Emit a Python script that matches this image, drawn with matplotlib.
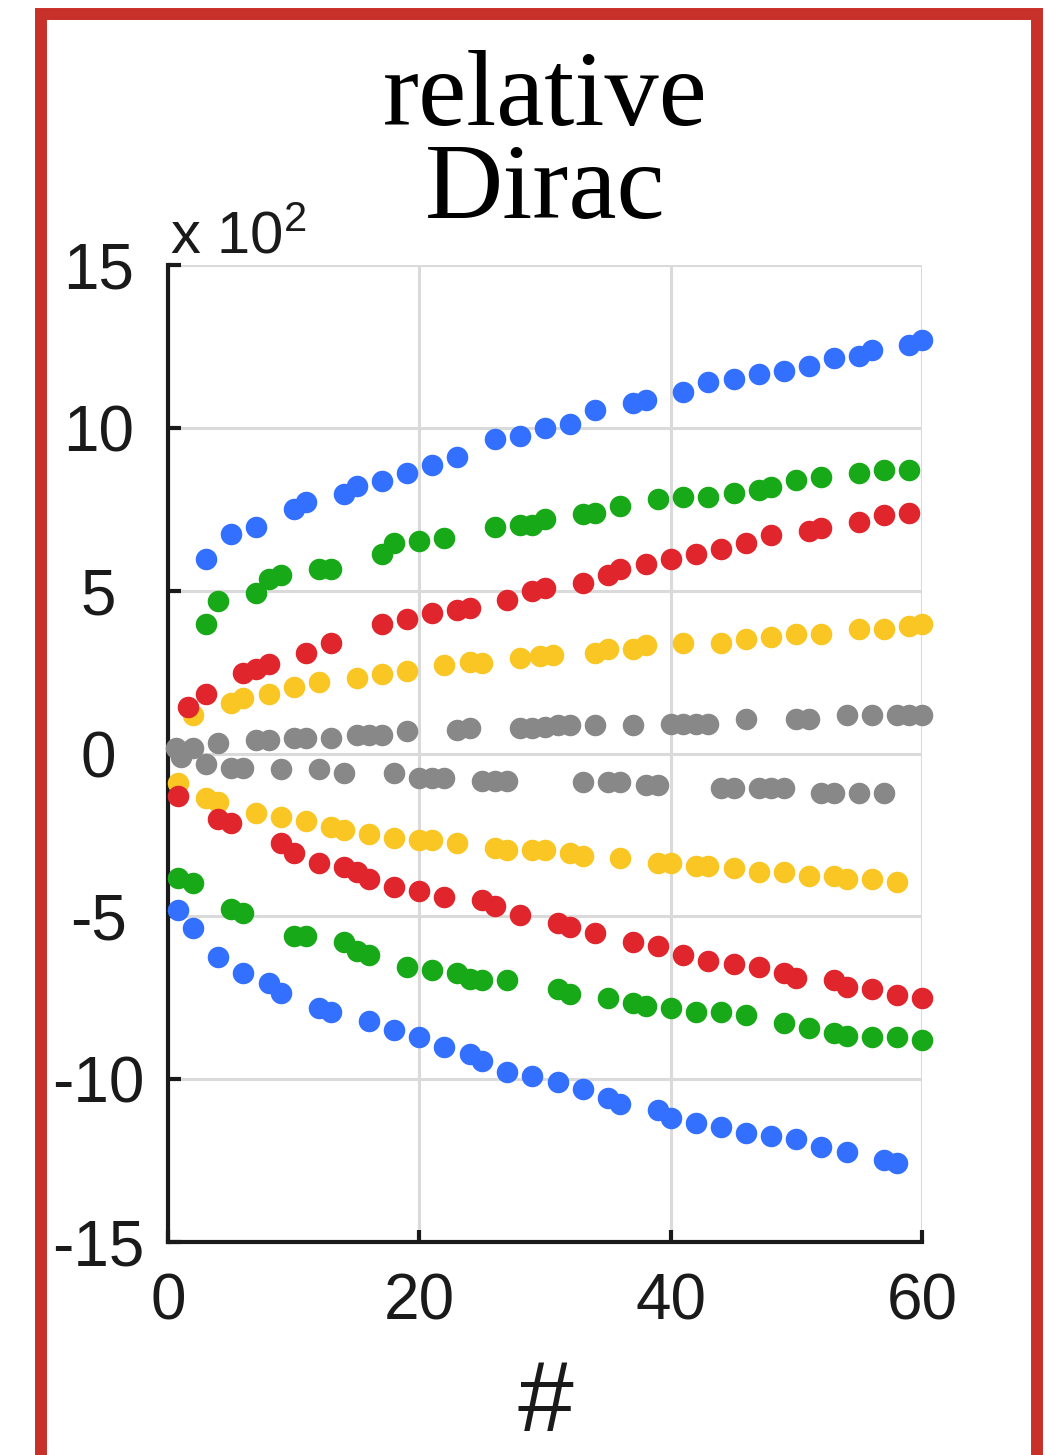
import numpy as np
import matplotlib
matplotlib.use("Agg")
import matplotlib.pyplot as plt
from matplotlib.patches import Rectangle

plt.rcParams["font.family"] = ["Liberation Sans", "DejaVu Sans"]
plt.rcParams["mathtext.default"] = "regular"

# values in units of 10^2
blue_up_x = [3, 5, 7, 10, 11, 14, 15, 17, 19, 21, 23, 26, 28, 30, 32, 34, 37, 38,
             41, 43, 45, 47, 49, 51, 53, 55, 56, 59, 60]
blue_up_y = [5.96, 6.75, 6.94, 7.52, 7.71, 7.98, 8.20, 8.38, 8.60, 8.87, 9.09, 9.67,
             9.76, 9.98, 10.13, 10.56, 10.75, 10.84, 11.11, 11.42, 11.51, 11.64,
             11.73, 11.91, 12.13, 12.22, 12.40, 12.53, 12.71]

green_up_x = [3, 4, 7, 8, 9, 12, 13, 17, 18, 20, 22, 26, 28, 29, 30, 33, 34, 36,
              39, 41, 43, 45, 47, 48, 50, 52, 55, 57, 59]
green_up_y = [3.99, 4.67, 4.94, 5.37, 5.47, 5.68, 5.68, 6.14, 6.45, 6.54, 6.63, 6.94,
              7.03, 7.03, 7.21, 7.34, 7.40, 7.61, 7.80, 7.89, 7.89, 8.01, 8.10, 8.17,
              8.41, 8.50, 8.60, 8.69, 8.69]

red_up_x = [1.6, 3, 6, 7, 8, 11, 13, 17, 19, 21, 23, 24, 27, 29, 30, 33, 35, 36,
            38, 40, 42, 44, 46, 48, 51, 52, 55, 57, 59]
red_up_y = [1.44, 1.84, 2.46, 2.58, 2.76, 3.10, 3.38, 3.99, 4.14, 4.30, 4.42, 4.48,
            4.70, 5.00, 5.07, 5.25, 5.47, 5.65, 5.83, 5.96, 6.14, 6.29, 6.45, 6.72,
            6.82, 6.91, 7.12, 7.31, 7.40]

yellow_up_x = [2, 5, 6, 8, 10, 12, 15, 17, 19, 22, 24, 25, 28, 29.6, 30.6, 34, 35,
               37, 38, 41, 44, 46, 48, 50, 52, 55, 57, 59, 60]
yellow_up_y = [1.17, 1.54, 1.69, 1.84, 2.03, 2.21, 2.33, 2.43, 2.52, 2.73, 2.82, 2.79,
               2.92, 2.98, 3.01, 3.10, 3.22, 3.22, 3.32, 3.38, 3.38, 3.53, 3.59, 3.68,
               3.68, 3.81, 3.81, 3.90, 3.99]

gray_up_x = [0.6, 2, 4, 7, 8, 10, 11, 13, 15, 16, 17, 19, 23, 24, 28, 29, 30, 31,
             32, 34, 37, 40, 41, 42, 43, 46, 50, 51, 54, 56, 58, 59, 60]
gray_up_y = [0.18, 0.18, 0.31, 0.40, 0.40, 0.49, 0.49, 0.49, 0.58, 0.58, 0.58, 0.68,
             0.71, 0.77, 0.77, 0.77, 0.80, 0.86, 0.86, 0.86, 0.86, 0.92, 0.92, 0.92,
             0.92, 1.07, 1.07, 1.07, 1.17, 1.17, 1.17, 1.17, 1.17]

gray_lo_x = [1, 3, 5, 6, 9, 12, 14, 18, 20, 21, 22, 25, 26, 27, 33, 35, 36, 38, 39,
             44, 45, 47, 48, 49, 52, 53, 55, 57]
gray_lo_y = [-0.10, -0.31, -0.43, -0.43, -0.49, -0.49, -0.61, -0.61, -0.74, -0.74,
             -0.74, -0.83, -0.83, -0.83, -0.89, -0.89, -0.89, -0.98, -0.98, -1.07,
             -1.07, -1.07, -1.07, -1.07, -1.20, -1.20, -1.20, -1.20]

yellow_lo_x = [0.8, 3, 4, 7, 9, 11, 13, 14, 16, 18, 20, 21, 23, 26, 27, 29, 30, 32,
               33, 36, 39, 40, 42, 43, 45, 47, 49, 51, 53, 54, 56, 58]
yellow_lo_y = [-0.92, -1.38, -1.50, -1.84, -1.96, -2.06, -2.27, -2.36, -2.46, -2.58,
               -2.67, -2.67, -2.76, -2.89, -2.95, -2.95, -2.95, -3.07, -3.16, -3.22,
               -3.35, -3.35, -3.44, -3.44, -3.53, -3.65, -3.65, -3.75, -3.75, -3.84,
               -3.84, -3.96]

red_lo_x = [0.8, 4, 5, 9, 10, 12, 14, 15, 16, 18, 20, 22, 25, 26, 28, 31, 32, 34,
            37, 39, 41, 43, 45, 47, 49, 50, 53, 54, 56, 58, 60]
red_lo_y = [-1.29, -2.00, -2.12, -2.76, -3.04, -3.35, -3.50, -3.65, -3.84, -4.11,
            -4.21, -4.42, -4.51, -4.67, -4.97, -5.19, -5.34, -5.50, -5.80, -5.90,
            -6.20, -6.36, -6.45, -6.57, -6.75, -6.88, -6.97, -7.18, -7.22, -7.43,
            -7.52]

green_lo_x = [0.8, 2, 5, 6, 10, 11, 14, 15, 16, 19, 21, 23, 24, 25, 27, 31, 32, 35,
              37, 38, 40, 42, 44, 46, 49, 51, 53, 54, 56, 58, 60]
green_lo_y = [-3.81, -3.99, -4.79, -4.91, -5.59, -5.59, -5.80, -6.05, -6.20, -6.57,
              -6.66, -6.75, -6.91, -6.97, -6.97, -7.22, -7.37, -7.52, -7.65, -7.74,
              -7.83, -7.95, -7.95, -8.04, -8.26, -8.44, -8.57, -8.66, -8.72, -8.72,
              -8.81]

blue_lo_x = [0.8, 2, 4, 6, 8, 9, 12, 13, 16, 18, 20, 22, 24, 25, 27, 29, 31, 33, 35,
             36, 39, 40, 42, 44, 46, 48, 50, 52, 54, 57, 58]
blue_lo_y = [-4.82, -5.37, -6.26, -6.75, -7.06, -7.34, -7.83, -7.95, -8.20, -8.50,
             -8.72, -9.00, -9.24, -9.43, -9.79, -9.89, -10.10, -10.29, -10.59, -10.75,
             -10.96, -11.18, -11.36, -11.48, -11.64, -11.76, -11.85, -12.07, -12.25,
             -12.47, -12.56]

c_blue = "#3370ff"
c_green = "#17a917"
c_red = "#e0252d"
c_yellow = "#f9c623"
c_gray = "#888888"

series = [
    (gray_up_x, gray_up_y, c_gray), (gray_lo_x, gray_lo_y, c_gray),
    (yellow_up_x, yellow_up_y, c_yellow), (yellow_lo_x, yellow_lo_y, c_yellow),
    (red_up_x, red_up_y, c_red), (red_lo_x, red_lo_y, c_red),
    (green_up_x, green_up_y, c_green), (green_lo_x, green_lo_y, c_green),
    (blue_up_x, blue_up_y, c_blue), (blue_lo_x, blue_lo_y, c_blue),
]

fig = plt.figure(figsize=(10.51, 14.55), dpi=100)
ax = fig.add_axes([168 / 1051, 1 - 1242 / 1455, 754 / 1051, 977 / 1455])

for xs, ys, col in series:
    ax.plot(xs, ys, "o", color=col, markersize=15.5, markeredgewidth=0,
            zorder=3, clip_on=False)

ax.set_xlim(0, 60)
ax.set_ylim(-15, 15)
ax.set_xticks([0, 20, 40, 60])
ax.set_yticks([-15, -10, -5, 0, 5, 10, 15])
ax.set_yticklabels(["-15", "-10", "-5", "0", "5", "10", "15"])
ax.grid(True, color="#dadada", linewidth=2.2, zorder=0)
ax.set_axisbelow(True)

for s in ["top", "right"]:
    ax.spines[s].set_visible(False)
for s in ["left", "bottom"]:
    ax.spines[s].set_linewidth(3.0)
    ax.spines[s].set_color("#1a1a1a")
ax.tick_params(direction="in", length=9, width=3.0, labelsize=46,
               colors="#1a1a1a")
ax.tick_params(axis="y", pad=50)
ax.tick_params(axis="x", pad=22)
for lab in ax.get_yticklabels():
    lab.set_horizontalalignment("center")

ax.text(0.003, 1.012, "x 10$^2$", transform=ax.transAxes, fontsize=43,
        ha="left", va="baseline", color="#1a1a1a")

ax.set_xlabel("#", fontsize=72, labelpad=18, color="#1a1a1a")
ax.set_title("relative\nDirac", fontsize=78, family="Liberation Serif",
             linespacing=0.93, pad=34)

# red frame
fig.patches.append(Rectangle((41 / 1051, -0.05), 996 / 1051, 1.05 - 14 / 1455,
                             transform=fig.transFigure, fill=False,
                             edgecolor="#c8302a", linewidth=8.6))

fig.savefig("out.png", dpi=100)
